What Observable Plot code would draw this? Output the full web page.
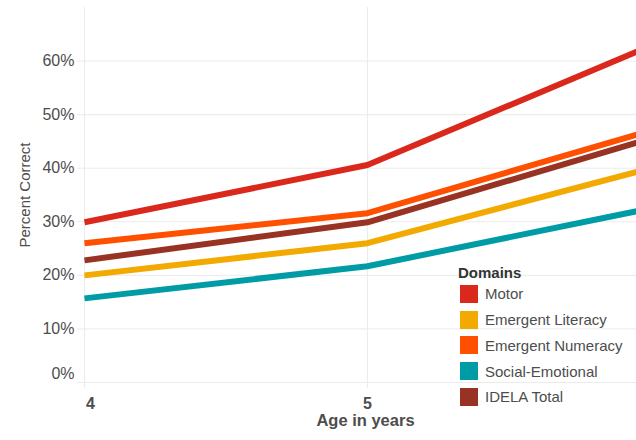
<!DOCTYPE html>
<html>
<head>
<meta charset="utf-8">
<script src="https://cdn.jsdelivr.net/npm/d3@7"></script>
<script src="https://cdn.jsdelivr.net/npm/@observablehq/plot@0.6"></script>
<style>
  html, body { margin: 0; padding: 0; background: #fff; }
  #wrap { position: relative; width: 636px; height: 440px; font-family: "Liberation Sans", Arial, sans-serif; }
  #legend { position: absolute; left: 458px; top: 264px; color: #4d4d4d; }
  #legend .title { font-weight: bold; font-size: 15px; color: #333; height: 17px; line-height: 17px; }
  #legend .item { display: flex; align-items: center; height: 25.75px; font-size: 15px; }
  #legend .sw { width: 18px; height: 18px; margin-left: 2px; margin-right: 7px; }
</style>
</head>
<body>
<div id="wrap"></div>
<script>
const ages = [4, 5, 6];
const domains = ["Motor", "Emergent Literacy", "Emergent Numeracy", "Social-Emotional", "IDELA Total"];
const colors = ["#da291c", "#f2a900", "#ff4f00", "#009ca6", "#983222"];
const motor = [0.299, 0.406, 0.628];
const literacy = [0.200, 0.260, 0.400];
const numeracy = [0.260, 0.316, 0.470];
const socialEmotional = [0.157, 0.217, 0.325];
const idelaTotal = [0.228, 0.299, 0.455];
const yTicks = [0, 0.1, 0.2, 0.3, 0.4, 0.5, 0.6];
const xTicks = [4, 5];

const seriesValues = [motor, literacy, numeracy, socialEmotional, idelaTotal];
const rows = [];
domains.forEach((d, i) => ages.forEach((a, j) => rows.push({domain: d, age: a, value: seriesValues[i][j]})));

const yFmt = d3.format(".0%");
const yAxisStyle = {tickSize: 7, tickPadding: 3, stroke: "#ebebeb", strokeOpacity: 1, fill: "#4d4d4d", fontSize: 16, label: null};
const xAxisStyle = {tickSize: 6, tickPadding: 9, stroke: "#ebebeb", strokeOpacity: 1, fill: "#4d4d4d", fontSize: 16, fontWeight: "bold", label: null};

const chart = Plot.plot({
  width: 636,
  height: 440,
  marginTop: 7,
  marginBottom: 58,
  marginLeft: 84,
  marginRight: 0,
  style: {fontFamily: "Liberation Sans, Arial, sans-serif", background: "transparent"},
  x: {domain: [4, 5.951], label: null},
  y: {domain: [0, 0.7], label: null},
  color: {domain: domains, range: colors},
  marks: [
    Plot.gridY(yTicks, {stroke: "#ebebeb", strokeOpacity: 1, strokeWidth: 1}),
    Plot.gridX(xTicks, {stroke: "#ebebeb", strokeOpacity: 1, strokeWidth: 1}),
    Plot.axisY(yTicks, {...yAxisStyle, tickFormat: d => d === 0 ? "" : yFmt(d)}),
    Plot.axisY(yTicks.filter(t => t === 0), {...yAxisStyle, tickFormat: yFmt, tickSize: 0, tickPadding: 10, dy: -9}),
    Plot.axisX(xTicks, {...xAxisStyle, tickFormat: d => d === 4 ? "" : String(d)}),
    Plot.axisX(xTicks.filter(t => t === 4), {...xAxisStyle, tickFormat: d => String(d), tickSize: 0, tickPadding: 15, dx: 6}),
    Plot.line(rows, {x: "age", y: "value", z: "domain", stroke: "domain", strokeWidth: 6, strokeLinecap: "butt", strokeLinejoin: "round", clip: true}),
    Plot.text(["Age in years"], {frameAnchor: "bottom", textAnchor: "middle", dx: 5, dy: 43, fontSize: 16.5, fontWeight: "bold", fill: "#4d4d4d"}),
    Plot.text(["Percent Correct"], {frameAnchor: "left", textAnchor: "middle", dx: -59, rotate: -90, fontSize: 15, fill: "#4d4d4d"})
  ]
});

const wrap = document.getElementById("wrap");
wrap.appendChild(chart);

const legend = document.createElement("div");
legend.id = "legend";
const title = document.createElement("div");
title.className = "title";
title.textContent = "Domains";
legend.appendChild(title);
domains.forEach((d, i) => {
  const item = document.createElement("div");
  item.className = "item";
  const sw = document.createElement("div");
  sw.className = "sw";
  sw.style.background = colors[i];
  const lab = document.createElement("span");
  lab.textContent = d;
  item.appendChild(sw);
  item.appendChild(lab);
  legend.appendChild(item);
});
wrap.appendChild(legend);
</script>
</body>
</html>
